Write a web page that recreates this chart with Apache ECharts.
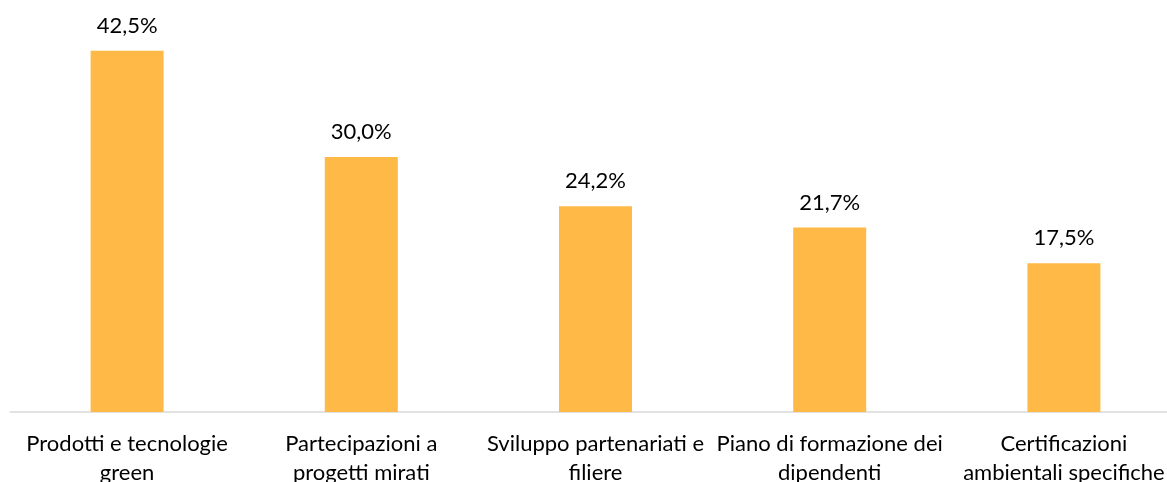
<!DOCTYPE html>
<html>
<head>
<meta charset="utf-8">
<style>
  html, body { margin: 0; padding: 0; background: #fff; }
  #chart { width: 1167px; height: 482px; }
</style>
<script src="https://cdn.jsdelivr.net/npm/echarts@6/dist/echarts.min.js"></script>
</head>
<body>
<div id="chart"></div>
<script>
const categories = [
  'Prodotti e tecnologie\ngreen',
  'Partecipazioni a\nprogetti mirati',
  'Sviluppo partenariati e\nfiliere',
  'Piano di formazione dei\ndipendenti',
  'Certificazioni\nambientali specifiche'
]
const values = [42.5, 30.0, 24.2, 21.7, 17.5]

const chart = echarts.init(document.getElementById('chart'))

const option = {
  animation: false,
  grid: {
    left: 10,
    width: 1171,
    top: 29.5,
    bottom: 70,
    containLabel: false,
    outerBoundsMode: 'none'
  },
  xAxis: {
    type: 'category',
    data: categories,
    axisLine: { lineStyle: { color: '#d9d9d9', width: 1.5 } },
    axisTick: { show: false },
    axisLabel: {
      interval: 0,
      margin: 17,
      color: '#000',
      fontFamily: 'Lato',
      fontSize: 22,
      lineHeight: 29
    }
  },
  yAxis: {
    type: 'value',
    min: 0,
    max: 45,
    show: false,
    splitLine: { show: false }
  },
  series: [
    {
      type: 'bar',
      data: values,
      barWidth: 73,
      itemStyle: { color: '#ffb946' },
      label: {
        show: true,
        position: 'top',
        distance: 14,
        color: '#000',
        fontFamily: 'Lato',
        fontSize: 22,
        formatter: p => p.value.toFixed(1).replace('.', ',') + '%'
      }
    }
  ]
}

chart.setOption(option)
</script>
</body>
</html>
